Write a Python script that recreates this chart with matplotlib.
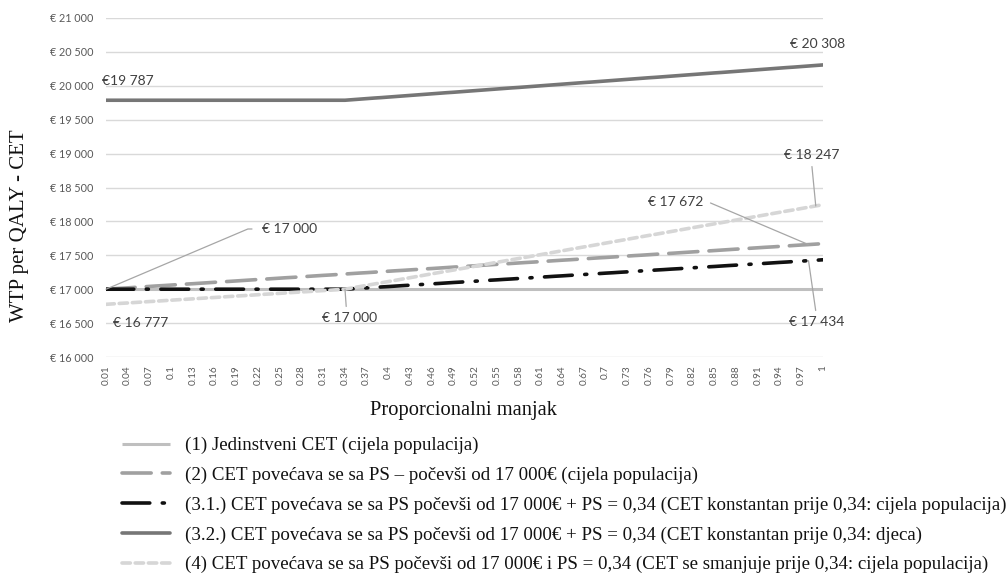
import numpy as np
import matplotlib
matplotlib.use("Agg")
import matplotlib.pyplot as plt

# Proporcionalni manjak (kategorije na x-osi)
categories = [0.01, 0.02, 0.03, 0.04, 0.05, 0.06, 0.07, 0.08, 0.09, 0.10,
              0.11, 0.12, 0.13, 0.14, 0.15, 0.16, 0.17, 0.18, 0.19, 0.20,
              0.21, 0.22, 0.23, 0.24, 0.25, 0.26, 0.27, 0.28, 0.29, 0.30,
              0.31, 0.32, 0.33, 0.34, 0.35, 0.36, 0.37, 0.38, 0.39, 0.40,
              0.41, 0.42, 0.43, 0.44, 0.45, 0.46, 0.47, 0.48, 0.49, 0.50,
              0.51, 0.52, 0.53, 0.54, 0.55, 0.56, 0.57, 0.58, 0.59, 0.60,
              0.61, 0.62, 0.63, 0.64, 0.65, 0.66, 0.67, 0.68, 0.69, 0.70,
              0.71, 0.72, 0.73, 0.74, 0.75, 0.76, 0.77, 0.78, 0.79, 0.80,
              0.81, 0.82, 0.83, 0.84, 0.85, 0.86, 0.87, 0.88, 0.89, 0.90,
              0.91, 0.92, 0.93, 0.94, 0.95, 0.96, 0.97, 0.98, 0.99, 1.00]

tick_labels = ["0.01", "0.04", "0.07", "0.1", "0.13", "0.16", "0.19", "0.22", "0.25",
               "0.28", "0.31", "0.34", "0.37", "0.4", "0.43", "0.46", "0.49", "0.52",
               "0.55", "0.58", "0.61", "0.64", "0.67", "0.7", "0.73", "0.76", "0.79",
               "0.82", "0.85", "0.88", "0.91", "0.94", "0.97", "1"]

y_ticks = [16000, 16500, 17000, 17500, 18000, 18500, 19000, 19500, 20000, 20500, 21000]
y_tick_labels = ["€ 16 000", "€ 16 500", "€ 17 000", "€ 17 500", "€ 18 000", "€ 18 500",
                 "€ 19 000", "€ 19 500", "€ 20 000", "€ 20 500", "€ 21 000"]

# (1) Jedinstveni CET
cet_1 = [17000] * 100

# (2) CET raste sa PS od 17 000
cet_2 = [17000, 17007, 17014, 17020, 17027, 17034, 17041, 17048, 17054, 17061,
         17068, 17075, 17081, 17088, 17095, 17102, 17109, 17115, 17122, 17129,
         17136, 17143, 17149, 17156, 17163, 17170, 17176, 17183, 17190, 17197,
         17204, 17210, 17217, 17224, 17231, 17238, 17244, 17251, 17258, 17265,
         17272, 17278, 17285, 17292, 17299, 17305, 17312, 17319, 17326, 17333,
         17339, 17346, 17353, 17360, 17367, 17373, 17380, 17387, 17394, 17400,
         17407, 17414, 17421, 17428, 17434, 17441, 17448, 17455, 17462, 17468,
         17475, 17482, 17489, 17496, 17502, 17509, 17516, 17523, 17529, 17536,
         17543, 17550, 17557, 17563, 17570, 17577, 17584, 17591, 17597, 17604,
         17611, 17618, 17624, 17631, 17638, 17645, 17652, 17658, 17665, 17672]

# (3.1.) konstantan do 0,34 - cijela populacija
cet_31 = [17000] * 34 + [
    17007, 17013, 17020, 17026, 17033, 17039, 17046, 17053, 17059, 17066,
    17072, 17079, 17085, 17092, 17099, 17105, 17112, 17118, 17125, 17132,
    17138, 17145, 17151, 17158, 17164, 17171, 17178, 17184, 17191, 17197,
    17204, 17210, 17217, 17224, 17230, 17237, 17243, 17250, 17256, 17263,
    17270, 17276, 17283, 17289, 17296, 17302, 17309, 17316, 17322, 17329,
    17335, 17342, 17349, 17355, 17362, 17368, 17375, 17381, 17388, 17395,
    17401, 17408, 17414, 17421, 17427, 17434]

# (3.2.) konstantan do 0,34 - djeca
cet_32 = [19787] * 34 + [
    19795, 19803, 19811, 19819, 19826, 19834, 19842, 19850, 19858, 19866,
    19874, 19882, 19890, 19898, 19905, 19913, 19921, 19929, 19937, 19945,
    19953, 19961, 19969, 19976, 19984, 19992, 20000, 20008, 20016, 20024,
    20032, 20040, 20048, 20055, 20063, 20071, 20079, 20087, 20095, 20103,
    20111, 20119, 20126, 20134, 20142, 20150, 20158, 20166, 20174, 20182,
    20190, 20197, 20205, 20213, 20221, 20229, 20237, 20245, 20253, 20261,
    20269, 20276, 20284, 20292, 20300, 20308]

# (4) smanjuje se prije 0,34
cet_4 = [16777, 16784, 16791, 16797, 16804, 16811, 16818, 16824, 16831, 16838,
         16845, 16851, 16858, 16865, 16872, 16878, 16885, 16892, 16899, 16905,
         16912, 16919, 16926, 16932, 16939, 16946, 16953, 16959, 16966, 16973,
         16980, 16986, 16993, 17000,
         17019, 17038, 17057, 17076, 17094, 17113, 17132, 17151, 17170, 17189,
         17208, 17227, 17246, 17265, 17283, 17302, 17321, 17340, 17359, 17378,
         17397, 17416, 17435, 17453, 17472, 17491, 17510, 17529, 17548, 17567,
         17586, 17605, 17624, 17642, 17661, 17680, 17699, 17718, 17737, 17756,
         17775, 17794, 17812, 17831, 17850, 17869, 17888, 17907, 17926, 17945,
         17964, 17982, 18001, 18020, 18039, 18058, 18077, 18096, 18115, 18134,
         18153, 18171, 18190, 18209, 18228, 18247]

labels = ["(1) Jedinstveni CET (cijela populacija)",
          "(2) CET povećava se sa PS – počevši od 17 000€ (cijela populacija)",
          "(3.1.) CET povećava se sa PS počevši od 17 000€ + PS = 0,34 (CET konstantan prije 0,34: cijela populacija)",
          "(3.2.) CET povećava se sa PS počevši od 17 000€ + PS = 0,34 (CET konstantan prije 0,34: djeca)",
          "(4) CET povećava se sa PS počevši od 17 000€ i PS = 0,34 (CET se smanjuje prije 0,34: cijela populacija)"]

plt.rcParams["lines.scale_dashes"] = False
serif = "Liberation Serif"
sans = "Lato"

fig = plt.figure(figsize=(10.08, 5.78), dpi=100)
ax = fig.add_axes([106 / 1008, 1 - 357 / 578, 717 / 1008, 339 / 578])

x = np.arange(len(categories))

# Linien
l1, = ax.plot(x, cet_1, color="#BFBFBF", lw=2.2, solid_capstyle="butt")
l2, = ax.plot(x, cet_2, color="#A0A0A0", lw=2.6, dashes=(21, 8), dash_capstyle="round")
l31, = ax.plot(x, cet_31, color="#111111", lw=2.6, dashes=(20, 9, 1.5, 9), dash_capstyle="round")
l32, = ax.plot(x, cet_32, color="#767676", lw=2.6, solid_capstyle="round")
l4, = ax.plot(x, cet_4, color="#D6D6D6", lw=2.6, dashes=(6, 3.5), dash_capstyle="round")

# Achsen
ax.set_xlim(0, len(categories) - 1)
ax.set_ylim(16000, 21000)
ax.set_yticks(y_ticks)
ax.set_yticklabels(y_tick_labels, fontsize=7.8, family=sans, color="#595959")
ax.set_xticks(x[::3])
ax.set_xticklabels(tick_labels, rotation=90, fontsize=7.2, family=sans, color="#595959")
ax.tick_params(axis="y", length=0, pad=9)
ax.tick_params(axis="x", length=0, pad=6)
ax.grid(axis="y", color="#D9D9D9", lw=1)
ax.set_axisbelow(True)
for s in ax.spines.values():
    s.set_visible(False)

# Datenbeschriftungen
txt = dict(fontsize=10, family=sans, color="#404040")
lead = dict(arrowstyle="-", color="#A6A6A6", lw=0.9, shrinkA=2, shrinkB=0)

ax.annotate("€ 17 000", xy=(0, cet_2[0]), xytext=(21.5, 17888), ha="left", va="center",
            arrowprops=dict(lead, relpos=(0, 0.5), shrinkA=5,
                            connectionstyle="angle,angleA=0,angleB=23,rad=0"), **txt)
ax.text(1.0, 16501, "€ 16 777", ha="left", va="center", **txt)
ax.annotate("€ 17 000", xy=(33, cet_31[33]), xytext=(33.6, 16575), ha="center", va="center",
            arrowprops=dict(lead, relpos=(0.45, 1)), **txt)
ax.text(3.0, 20075, "€19 787", ha="center", va="center", **txt)
ax.text(98.3, 20612, "€ 20 308", ha="center", va="center", **txt)
ax.annotate("€ 18 247", xy=(98, cet_4[98]), xytext=(97.4, 18979), ha="center", va="center",
            arrowprops=dict(lead, relpos=(0.5, 0)), **txt)
ax.annotate("€ 17 672", xy=(97, cet_2[97]), xytext=(78.7, 18286), ha="center", va="center",
            arrowprops=dict(lead, relpos=(1, 0.5), shrinkA=3,
                            connectionstyle="angle,angleA=0,angleB=-23,rad=0"), **txt)
ax.annotate("€ 17 434", xy=(97, cet_31[97]), xytext=(98.1, 16516), ha="center", va="center",
            arrowprops=dict(lead, relpos=(0.5, 1)), **txt)

# Achsentitel
fig.text(463 / 1008, 1 - 410 / 578, "Proporcionalni manjak", ha="center", va="center",
         fontsize=14.8, family=serif, color="#111111")
fig.text(20 / 1008, 1 - 226 / 578, "WTP per QALY - CET", ha="center", va="center",
         rotation=90, fontsize=15, family=serif, color="#111111")

# Legende
fig.legend([l1, l2, l31, l32, l4], labels, loc="upper left",
           bbox_to_anchor=(122 / 1008, 1 - 437 / 578), frameon=False,
           prop=dict(family=serif, size=13.6), handlelength=2.55, handletextpad=0.8,
           labelspacing=0.66, borderpad=0, borderaxespad=0, labelcolor="#111111")

fig.savefig("out.png", dpi=100)
